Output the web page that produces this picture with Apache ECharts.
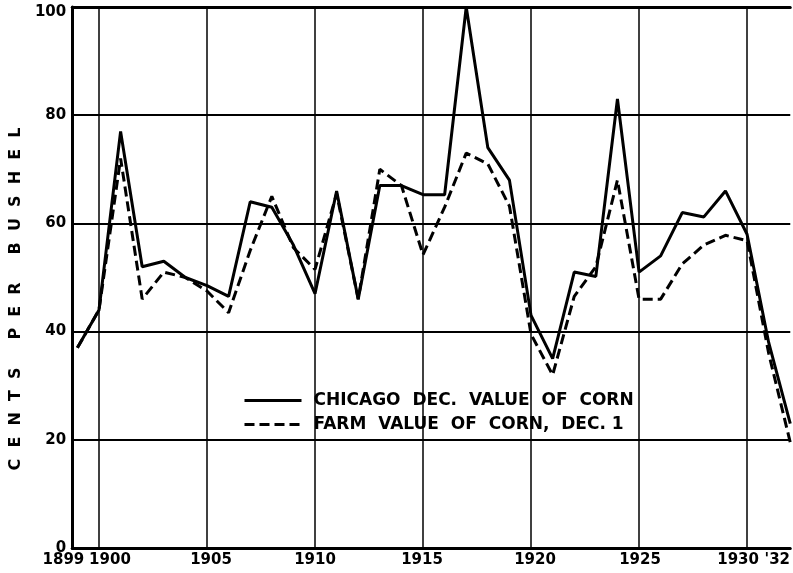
<!DOCTYPE html>
<html><head><meta charset="utf-8">
<script src="https://cdn.jsdelivr.net/npm/echarts@6/dist/echarts.min.js"></script>
<style>html,body{margin:0;padding:0;background:#fff}#c{width:793px;height:573px}</style>
</head><body><div id="c"></div>
<script>
// ---- data ----
const YEARS = [1899,1900,1901,1902,1903,1904,1905,1906,1907,1908,1909,1910,1911,1912,1913,1914,1915,1916,1917,1918,1919,1920,1921,1922,1923,1924,1925,1926,1927,1928,1929,1930,1931,1932];
const CHICAGO = [37,44,77,52,53,50,48.5,46.5,64,63,56,47,66,46,67,67,65.3,65.3,100,74,68,43,35,51,50.2,83,51,54,62,61.2,66,58,38,23];
const FARM = [37,44,72,46,51,50,47.5,43.5,55,65,55.5,51.5,65.5,46,70,67,54.2,63,73,71,63.2,39.5,32,46.5,52,68,46,46,52.5,56,57.8,56.8,36,19.5];
const SERIES_NAMES = ['CHICAGO  DEC.  VALUE  OF  CORN', 'FARM  VALUE  OF  CORN,  DEC. 1'];
const X_LABEL_YEARS = [1899,1900,1905,1910,1915,1920,1925,1930,1932];
const X_LABEL_TEXT = ['1899','1900','1905','1910','1915','1920','1925','1930',"'32"];
const V_GRID_YEARS = [1900,1905,1910,1915,1920,1925,1930];
const Y_AXIS_NAME = 'C  E  N  T  S     P  E  R     B  U  S  H  E  L';

// ---- style ----
const FONT = 'DejaVu Sans';
const X_LABEL_SHIFT = [-14, 11, 4, 0, -1, 4, 1, -9, -13];

const rich = {};
X_LABEL_SHIFT.forEach((s, i) => {
  rich['r' + i] = {
    fontFamily: FONT, fontWeight: 'bold', fontSize: 15, color: '#000',
    padding: s >= 0 ? [0, 0, 0, 2 * s] : [0, -2 * s, 0, 0]
  };
});

const pairs = arr => YEARS.map((y, i) => [y, arr[i]]);

const chart = echarts.init(document.getElementById('c'), null, {renderer: 'canvas'});
chart.setOption({
  animation: false,
  backgroundColor: '#fff',
  grid: {left: 69, right: -2, top: 7, bottom: 25},
  legend: {
    data: SERIES_NAMES,
    orient: 'vertical',
    left: 240, top: 383,
    backgroundColor: '#fff',
    padding: [9, 0, 5, 3],
    itemGap: 7,
    itemWidth: 57,
    itemHeight: 14,
    itemStyle: {color: 'rgba(0,0,0,0)', borderWidth: 0, opacity: 0},
    lineStyle: {color: '#000', width: 3, opacity: 1},
    textStyle: {fontFamily: FONT, fontWeight: 'bold', fontSize: 17, color: '#000', padding: [0, 0, 0, 7], lineHeight: 16}
  },
  xAxis: [{
    type: 'value', min: 1898.76, max: 1932,
    axisLine: {show: true, onZero: false, lineStyle: {color: '#000', width: 3}},
    axisTick: {show: false},
    splitLine: {show: false},
    axisLabel: {
      customValues: X_LABEL_YEARS,
      margin: 5,
      fontFamily: FONT, fontWeight: 'bold', fontSize: 15, color: '#000',
      formatter: v => {
        const i = X_LABEL_YEARS.indexOf(Math.round(v));
        return i < 0 ? '' : '{r' + i + '|' + X_LABEL_TEXT[i] + '}';
      },
      rich: rich
    }
  }, {
    type: 'value', min: 1898.76, max: 1932, position: 'top',
    axisLine: {show: true, onZero: false, lineStyle: {color: '#000', width: 3}},
    axisTick: {show: false}, axisLabel: {show: false}, splitLine: {show: false}
  }],
  yAxis: {
    type: 'value', min: 0, max: 100, interval: 20,
    name: Y_AXIS_NAME,
    nameLocation: 'middle', nameRotate: 90, nameGap: 43,
    nameTextStyle: {fontFamily: FONT, fontWeight: 'bold', fontSize: 16, color: '#000', padding: [0, 43, 0, 0]},
    axisLine: {show: true, lineStyle: {color: '#000', width: 3}},
    axisTick: {show: false},
    splitLine: {show: true, lineStyle: {color: '#000', width: 2}},
    axisLabel: {
      margin: 6, fontFamily: FONT, fontWeight: 'bold', fontSize: 15, color: '#000',
      formatter: v => v === 100 ? '{t|100}' : String(v),
      rich: {t: {fontFamily: FONT, fontWeight: 'bold', fontSize: 15, color: '#000', padding: [10, 0, 0, 0]}}
    }
  },
  series: [{
    name: 'vgrid', type: 'line', data: [], z: 1, silent: true,
    markLine: {
      symbol: ['none', 'none'], silent: true, animation: false,
      label: {show: false},
      lineStyle: {color: '#000', width: 1.5, type: 'solid'},
      data: V_GRID_YEARS.map(y => ({xAxis: y}))
    }
  }, {
    name: SERIES_NAMES[0], type: 'line', data: pairs(CHICAGO),
    symbol: 'none', z: 3,
    lineStyle: {color: '#000', width: 3, type: 'solid'},
    itemStyle: {color: '#000'}
  }, {
    name: SERIES_NAMES[1], type: 'line', data: pairs(FARM),
    symbol: 'none', z: 3,
    lineStyle: {color: '#000', width: 3, type: [10, 5]},
    itemStyle: {color: '#000'}
  }]
});
</script></body></html>
